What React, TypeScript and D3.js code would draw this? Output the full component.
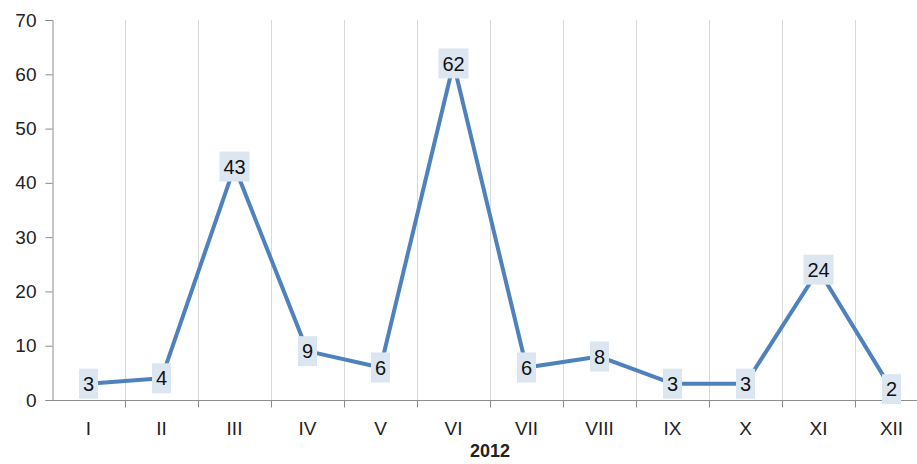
import React, { useRef, useEffect } from "react";
import * as d3 from "d3";

const months = ["I", "II", "III", "IV", "V", "VI", "VII", "VIII", "IX", "X", "XI", "XII"];
const values = [3, 4, 43, 9, 6, 62, 6, 8, 3, 3, 24, 2];
const yTicks = [0, 10, 20, 30, 40, 50, 60, 70];
const xTitle = "2012";

const App: React.FC = () => {
  const svgRef = useRef<SVGSVGElement>(null);

  useEffect(() => {
    document.body.style.margin = "0";
    if (!svgRef.current) return;
    const svg = d3.select(svgRef.current);
    svg.selectAll("*").remove();

    const width = 917;
    const height = 464;
    const left = 52;
    const bandW = 73;
    const font = "'Liberation Sans', Arial, sans-serif";

    const x = d3
      .scaleBand<string>()
      .domain(months)
      .range([left, left + bandW * months.length])
      .paddingInner(0)
      .paddingOuter(0);

    const y = d3.scaleLinear().domain([0, 70]).range([400, 20]);

    svg.attr("width", width).attr("height", height).style("display", "block");

    // vertical gridlines at band boundaries
    svg
      .append("g")
      .selectAll("line")
      .data(months.slice(1))
      .enter()
      .append("line")
      .attr("x1", (d) => x(d)! + 0.5)
      .attr("x2", (d) => x(d)! + 0.5)
      .attr("y1", y(70))
      .attr("y2", y(0))
      .attr("stroke", "#d9d9d9")
      .attr("stroke-width", 1);

    // y axis
    const yAxis = svg
      .append("g")
      .attr("transform", `translate(${left + 0.5},0)`)
      .call(d3.axisLeft(y).tickValues(yTicks).tickSize(7).tickPadding(9));
    yAxis.select(".domain").attr("stroke", "#8c8c8c");
    yAxis.selectAll(".tick line").attr("stroke", "#8c8c8c");
    yAxis
      .selectAll(".tick text")
      .attr("fill", "#222")
      .style("font-family", font)
      .style("font-size", "19px");

    // x axis
    const xAxis = svg
      .append("g")
      .attr("transform", `translate(0,${y(0) + 0.5})`);
    xAxis
      .append("line")
      .attr("x1", left)
      .attr("x2", width)
      .attr("stroke", "#8c8c8c");
    xAxis
      .selectAll(".xtick")
      .data(months.slice(1))
      .enter()
      .append("line")
      .attr("x1", (d) => x(d)! + 0.5)
      .attr("x2", (d) => x(d)! + 0.5)
      .attr("y1", 0)
      .attr("y2", 7)
      .attr("stroke", "#8c8c8c");
    xAxis
      .selectAll(".xlabel")
      .data(months)
      .enter()
      .append("text")
      .attr("x", (d) => x(d)! + x.bandwidth() / 2)
      .attr("y", 34)
      .attr("text-anchor", "middle")
      .attr("fill", "#222")
      .style("font-family", font)
      .style("font-size", "19px")
      .text((d) => d);

    svg
      .append("text")
      .attr("x", 490)
      .attr("y", 457)
      .attr("text-anchor", "middle")
      .attr("fill", "#222")
      .style("font-family", font)
      .style("font-size", "18px")
      .style("font-weight", "bold")
      .text(xTitle);

    const pts = months.map((m, i) => ({ m, v: values[i] }));

    const line = d3
      .line<{ m: string; v: number }>()
      .x((d) => x(d.m)! + x.bandwidth() / 2)
      .y((d) => y(d.v));

    svg
      .append("path")
      .datum(pts)
      .attr("fill", "none")
      .attr("stroke", "#4f81bd")
      .attr("stroke-width", 4)
      .attr("stroke-linejoin", "round")
      .attr("d", line);

    const labels = svg
      .append("g")
      .selectAll("g")
      .data(pts)
      .enter()
      .append("g")
      .attr("transform", (d) => `translate(${x(d.m)! + x.bandwidth() / 2},${y(d.v)})`);

    labels
      .append("rect")
      .attr("x", (d) => -(String(d.v).length * 11 + 8) / 2)
      .attr("y", -15)
      .attr("width", (d) => String(d.v).length * 11 + 8)
      .attr("height", 30)
      .attr("fill", "#dce6f1");

    labels
      .append("text")
      .attr("text-anchor", "middle")
      .attr("dy", "0.36em")
      .attr("fill", "#111")
      .style("font-family", font)
      .style("font-size", "20px")
      .text((d) => d.v);
  }, []);

  return <svg ref={svgRef}></svg>;
};

export default App;
